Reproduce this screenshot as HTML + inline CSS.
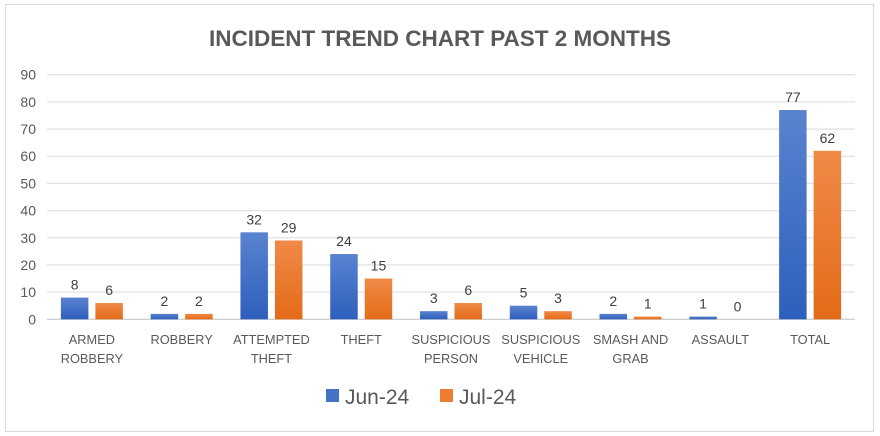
<!DOCTYPE html>
<html><head><meta charset="utf-8"><style>
body{margin:0;background:#fff;}
svg{display:block;font-family:"Liberation Sans",sans-serif;}
</style></head><body>
<svg width="880" height="436">
<defs>
<linearGradient id="gb" x1="0" y1="0" x2="0" y2="1"><stop offset="0" stop-color="#5a83cf"/><stop offset="1" stop-color="#2e5fbd"/></linearGradient>
<linearGradient id="go" x1="0" y1="0" x2="0" y2="1"><stop offset="0" stop-color="#f08a47"/><stop offset="1" stop-color="#e36b18"/></linearGradient>
</defs>
<rect x="5.5" y="4.5" width="868" height="427" fill="#fff" stroke="#d9d9d9"/>
<text x="440" y="46" text-anchor="middle" font-size="22.5" font-weight="bold" fill="#595959">INCIDENT TREND CHART PAST 2 MONTHS</text>
<g id="grid"></g><g id="bars"></g><g id="labels"></g>
<g>
<rect x="326" y="389" width="13" height="13" fill="#4472c4"/>
<text x="345" y="404" font-size="21" fill="#595959">Jun-24</text>
<rect x="440" y="389" width="13" height="13" fill="#ed7d31"/>
<text x="459" y="404" font-size="21" fill="#595959">Jul-24</text>
</g>
</svg>
<script>
const categories=[["ARMED","ROBBERY"],["ROBBERY"],["ATTEMPTED","THEFT"],["THEFT"],["SUSPICIOUS","PERSON"],["SUSPICIOUS","VEHICLE"],["SMASH AND","GRAB"],["ASSAULT"],["TOTAL"]];
const jun=[8,2,32,24,3,5,2,1,77];
const jul=[6,2,29,15,6,3,1,0,62];
const yTicks=[0,10,20,30,40,50,60,70,80,90];
const NS="http://www.w3.org/2000/svg";
const L=47,R=855,Y0=319.3,Y90=74.7;
const y=v=>Y0-(v/90)*(Y0-Y90);
const band=(R-L)/categories.length;
const cx=i=>L+band*(i+0.5);
function mk(t,a,p){const e=document.createElementNS(NS,t);for(const k in a)e.setAttribute(k,a[k]);p.appendChild(e);return e;}
const grid=document.getElementById('grid'),bars=document.getElementById('bars'),labs=document.getElementById('labels');
yTicks.forEach(t=>{
 const l=mk('line',{x1:L,x2:R,y1:y(t),y2:y(t),stroke:t===0?'#d0d0d0':'#e3e3e3','stroke-width':1.3},grid);
 
 
 const tx=mk('text',{x:36,y:y(t)+5,'text-anchor':'end','font-size':14,fill:'#595959'},grid);
 tx.textContent=t;
 
 
});
const bw=27.5,gap=7;
categories.forEach((c,i)=>{
 [[jun,'url(#gb)',-1,'jun'],[jul,'url(#go)',1,'jul']].forEach(([s,f,d,n])=>{
  const x=d<0?cx(i)-gap/2-bw:cx(i)+gap/2;
  const r=mk('rect',{x:x,y:y(s[i]),width:bw,height:Math.max(0,Y0-y(s[i])),fill:f},bars);
  
  
  const t=mk('text',{x:x+bw/2,y:y(s[i])-8,'text-anchor':'middle','font-size':14,fill:'#404040'},labs);
  t.textContent=s[i];
  
  
 });
 c.forEach((ln,k)=>{
  const t=mk('text',{x:cx(i),y:344+k*19,'text-anchor':'middle','font-size':12.8,fill:'#595959'},labs);
  t.textContent=ln;
  
  
 });
});
</script>
</body></html>
